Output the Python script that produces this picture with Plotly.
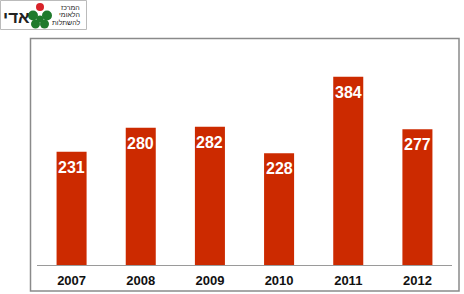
import plotly.graph_objects as go

years = ["2007", "2008", "2009", "2010", "2011", "2012"]
values = [231, 280, 282, 228, 384, 277]

W, H = 464, 294
L, R, T, B = 37, 12, 45, 29
pw, ph = W - L - R, H - T - B

def px(x):
    return (x - L) / pw

def py(y):
    return (H - B - y) / ph

fig = go.Figure()
fig.add_trace(go.Bar(
    x=years, y=values,
    marker=dict(color="#CC2A00", line=dict(width=0)),
    hoverinfo="x+y",
))

shapes = []
# outer frame
shapes.append(dict(type="rect", xref="paper", yref="paper",
                   x0=px(30.5), x1=px(459), y0=py(38.5), y1=py(291),
                   line=dict(color="#8a8a8a", width=1.5), fillcolor="rgba(0,0,0,0)", layer="below"))
# logo box
shapes.append(dict(type="rect", xref="paper", yref="paper",
                   x0=px(0.5), x1=px(86.5), y0=py(0.5), y1=py(29.5),
                   line=dict(color="#bbbbbb", width=1), fillcolor="white"))
green = "#1f7a2c"
for cx, cy, r in [(33, 15.5, 5), (47, 15.5, 5), (35.5, 24, 4.5), (44.5, 24, 4.5), (40, 19, 3.5)]:
    shapes.append(dict(type="circle", xref="paper", yref="paper",
                       x0=px(cx - r), x1=px(cx + r), y0=py(cy - r), y1=py(cy + r),
                       line=dict(width=0), fillcolor=green))
shapes.append(dict(type="circle", xref="paper", yref="paper",
                   x0=px(36), x1=px(44), y0=py(3), y1=py(11),
                   line=dict(width=0), fillcolor="#d8232a"))

annotations = [
    dict(text="<b>אדי</b>", xref="paper", yref="paper", x=px(16), y=py(17),
         showarrow=False, font=dict(family="Arial, Liberation Sans", size=17, color="#222"),
         xanchor="center", yanchor="middle"),
]
for i, line in enumerate(["המרכז", "הלאומי", "להשתלות"]):
    annotations.append(dict(text=line, xref="paper", yref="paper", x=px(81), y=py(7 + i * 7.5),
                            showarrow=False,
                            font=dict(family="Liberation Sans Narrow, Arial Narrow, Arial", size=7, color="#222"),
                            xanchor="right", yanchor="middle", borderpad=0))
for i, v in enumerate(values):
    annotations.append(dict(text=f"<b>{v}</b>", x=i, y=v, xref="x", yref="y",
                            showarrow=False, yanchor="top", xanchor="center", yshift=-5,
                            font=dict(family="Arial, Liberation Sans, sans-serif", size=16, color="white")))

fig.update_layout(
    width=W, height=H,
    margin=dict(l=L, r=R, t=T, b=B, pad=0),
    paper_bgcolor="white", plot_bgcolor="white",
    bargap=0.566,
    showlegend=False,
    shapes=shapes,
    annotations=annotations,
    xaxis=dict(type="category", range=[-0.5, len(years) - 0.5], showline=True,
               linecolor="#9a9a9a", linewidth=1, ticks="",
               ticklabelstandoff=3, automargin=False,
               tickfont=dict(family="Arial, Liberation Sans, sans-serif", size=13, color="#111", weight="bold"),
               showgrid=False, zeroline=False, fixedrange=True),
    yaxis=dict(range=[0, 449], visible=False, showgrid=False, zeroline=False, automargin=False),
)

fig.write_html("out.html")
